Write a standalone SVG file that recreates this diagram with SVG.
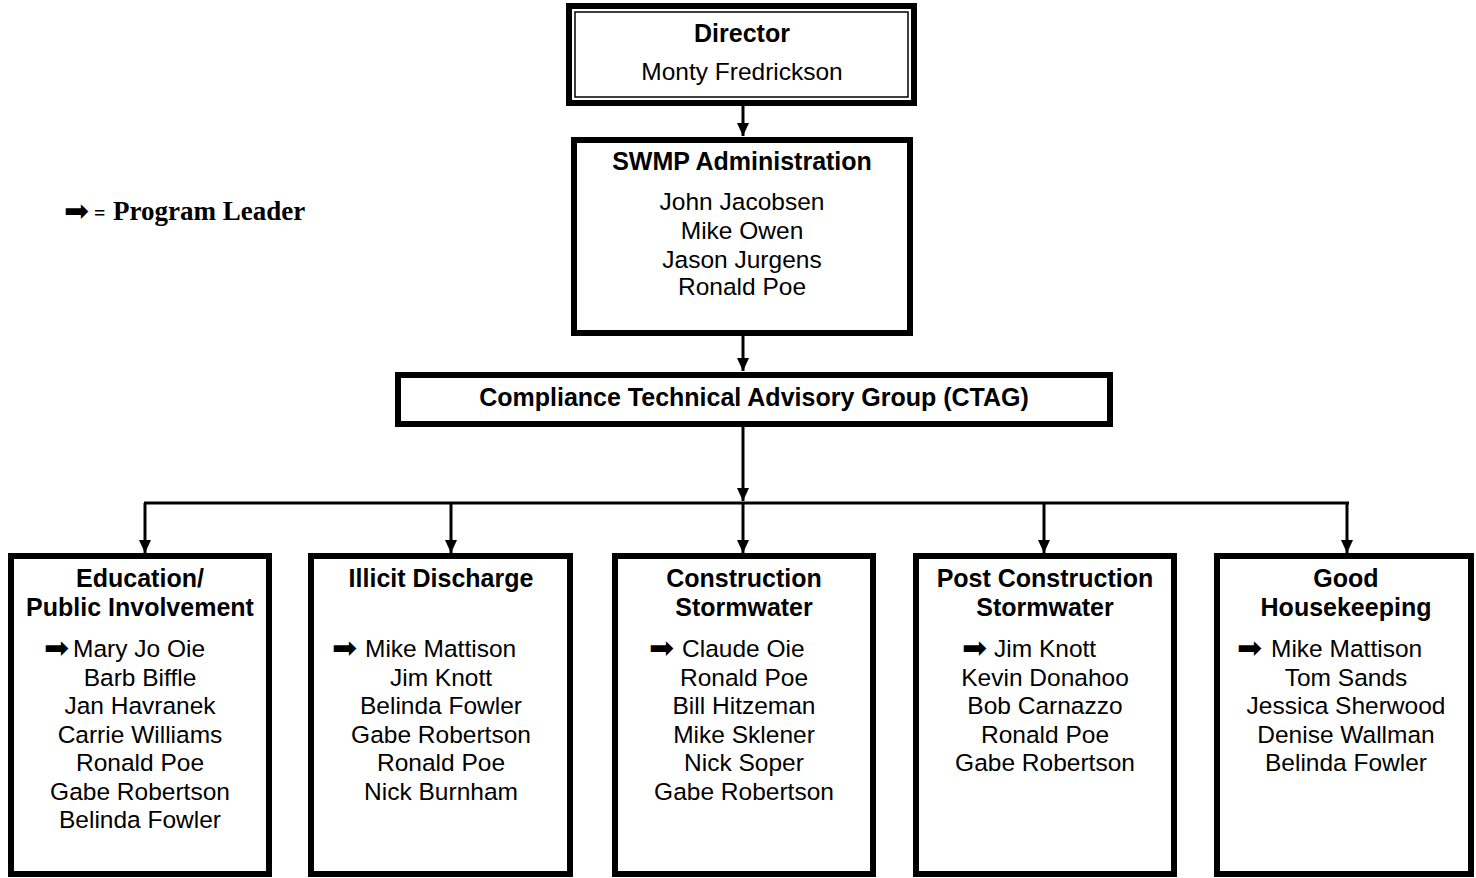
<svg xmlns="http://www.w3.org/2000/svg" width="1476" height="878" viewBox="0 0 1476 878">
<style>
.box{fill:#fff;stroke:#000;stroke-width:6}
.thin{fill:none;stroke:#000;stroke-width:1.5}
.t{font-family:"Liberation Sans",Arial,sans-serif;font-weight:bold;font-size:25px;text-anchor:middle;fill:#000}
.n{font-family:"Liberation Sans",Arial,sans-serif;font-size:24.5px;text-anchor:middle;fill:#000}
.ns{font-family:"Liberation Sans",Arial,sans-serif;font-size:24.5px;fill:#000}
.ar{font-family:"DejaVu Sans",sans-serif;font-size:30px;fill:#000}
.c{stroke:#000;stroke-width:3;fill:none}
</style>
<defs>
<marker id="ah" markerUnits="userSpaceOnUse" markerWidth="13" markerHeight="12" viewBox="0 0 13 12" refX="13" refY="6" orient="auto">
<path d="M0,0 L13,6 L0,12 z" fill="#000"/>
</marker>
</defs>
<rect width="1476" height="878" fill="#fff"/>

<g id="legend">
<text class="ar" x="64" y="221">➡</text>
<text x="94" y="220" font-family="'Liberation Serif','Times New Roman',serif" font-weight="bold" font-size="20px">=</text>
<text x="113" y="220" font-family="'Liberation Serif','Times New Roman',serif" font-weight="bold" font-size="27px">Program Leader</text>
</g>

<g id="connectors">
<line class="c" x1="743" y1="106" x2="743" y2="136" marker-end="url(#ah)"/>
<line class="c" x1="743" y1="335" x2="743" y2="371" marker-end="url(#ah)"/>
<line class="c" x1="743" y1="427" x2="743" y2="501" marker-end="url(#ah)"/>
<line class="c" x1="144" y1="503" x2="1349" y2="503"/>
<line class="c" x1="145" y1="503" x2="145" y2="553" marker-end="url(#ah)"/>
<line class="c" x1="451" y1="503" x2="451" y2="553" marker-end="url(#ah)"/>
<line class="c" x1="743" y1="503" x2="743" y2="553" marker-end="url(#ah)"/>
<line class="c" x1="1044" y1="503" x2="1044" y2="553" marker-end="url(#ah)"/>
<line class="c" x1="1347" y1="503" x2="1347" y2="553" marker-end="url(#ah)"/>
</g>

<g id="director">
<rect class="box" x="569" y="6" width="345" height="97"/>
<rect class="thin" x="575" y="12" width="333" height="85"/>
<text class="t" x="742" y="42">Director</text>
<text class="n" x="742" y="80">Monty Fredrickson</text>
</g>

<g id="swmp">
<rect class="box" x="574" y="140" width="336" height="193"/>
<text class="t" x="742" y="170">SWMP Administration</text>
<text class="n" x="742" y="210">John Jacobsen</text>
<text class="n" x="742" y="239">Mike Owen</text>
<text class="n" x="742" y="268">Jason Jurgens</text>
<text class="n" x="742" y="295">Ronald Poe</text>
</g>

<g id="ctag">
<rect class="box" x="398" y="375" width="712" height="49"/>
<text class="t" x="754" y="406">Compliance Technical Advisory Group (CTAG)</text>
</g>

<g id="education">
<rect class="box" x="11" y="556" width="258" height="318"/>
<text class="t" x="140" y="587">Education/</text>
<text class="t" x="140" y="616">Public Involvement</text>
<text class="ar" x="44" y="658">➡</text>
<text class="ns" x="73" y="657">Mary Jo Oie</text>
<text class="n" x="140" y="685.5">Barb Biffle</text>
<text class="n" x="140" y="714">Jan Havranek</text>
<text class="n" x="140" y="742.5">Carrie Williams</text>
<text class="n" x="140" y="771">Ronald Poe</text>
<text class="n" x="140" y="799.5">Gabe Robertson</text>
<text class="n" x="140" y="828">Belinda Fowler</text>
</g>

<g id="illicit">
<rect class="box" x="311" y="556" width="259" height="318"/>
<text class="t" x="441" y="587">Illicit Discharge</text>
<text class="ar" x="332" y="658">➡</text>
<text class="ns" x="365" y="657">Mike Mattison</text>
<text class="n" x="441" y="685.5">Jim Knott</text>
<text class="n" x="441" y="714">Belinda Fowler</text>
<text class="n" x="441" y="742.5">Gabe Robertson</text>
<text class="n" x="441" y="771">Ronald Poe</text>
<text class="n" x="441" y="799.5">Nick Burnham</text>
</g>

<g id="construction">
<rect class="box" x="615" y="556" width="258" height="318"/>
<text class="t" x="744" y="587">Construction</text>
<text class="t" x="744" y="616">Stormwater</text>
<text class="ar" x="649" y="658">➡</text>
<text class="ns" x="682" y="657">Claude Oie</text>
<text class="n" x="744" y="685.5">Ronald Poe</text>
<text class="n" x="744" y="714">Bill Hitzeman</text>
<text class="n" x="744" y="742.5">Mike Sklener</text>
<text class="n" x="744" y="771">Nick Soper</text>
<text class="n" x="744" y="799.5">Gabe Robertson</text>
</g>

<g id="postconstruction">
<rect class="box" x="916" y="556" width="258" height="318"/>
<text class="t" x="1045" y="587">Post Construction</text>
<text class="t" x="1045" y="616">Stormwater</text>
<text class="ar" x="962" y="658">➡</text>
<text class="ns" x="994" y="657">Jim Knott</text>
<text class="n" x="1045" y="685.5">Kevin Donahoo</text>
<text class="n" x="1045" y="714">Bob Carnazzo</text>
<text class="n" x="1045" y="742.5">Ronald Poe</text>
<text class="n" x="1045" y="771">Gabe Robertson</text>
</g>

<g id="housekeeping">
<rect class="box" x="1217" y="556" width="254" height="318"/>
<text class="t" x="1346" y="587">Good</text>
<text class="t" x="1346" y="616">Housekeeping</text>
<text class="ar" x="1237" y="658">➡</text>
<text class="ns" x="1271" y="657">Mike Mattison</text>
<text class="n" x="1346" y="685.5">Tom Sands</text>
<text class="n" x="1346" y="714">Jessica Sherwood</text>
<text class="n" x="1346" y="742.5">Denise Wallman</text>
<text class="n" x="1346" y="771">Belinda Fowler</text>
</g>
</svg>
